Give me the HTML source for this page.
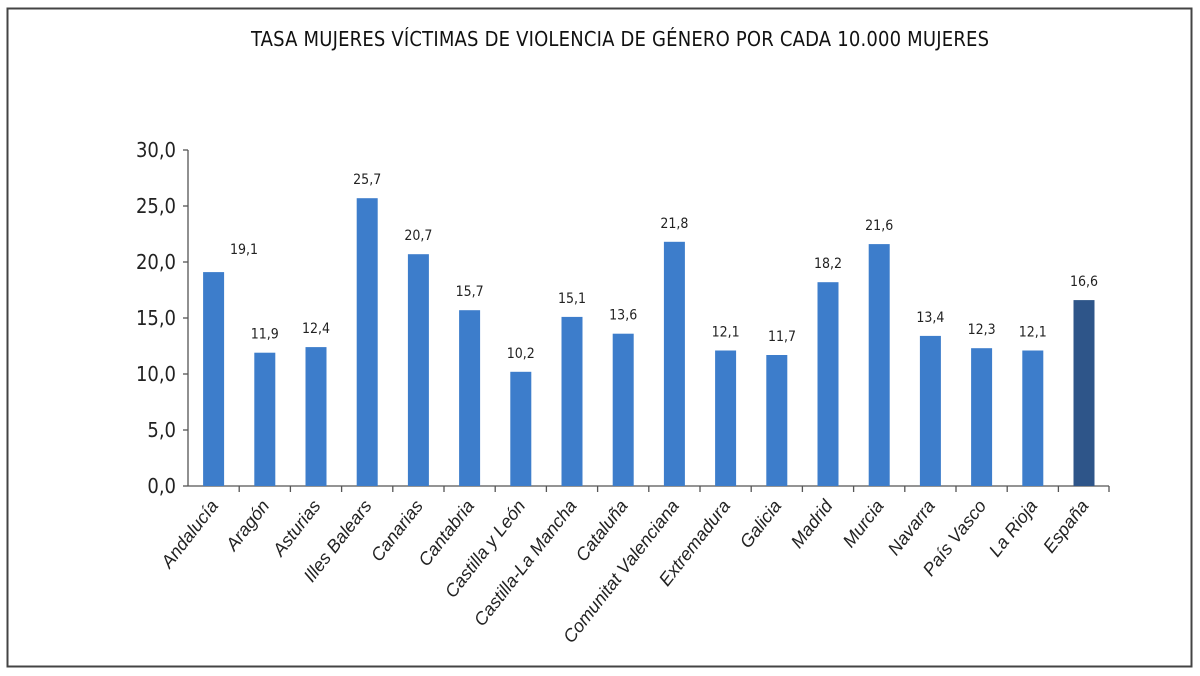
<!DOCTYPE html>
<html><head><meta charset="utf-8"><style>
html,body{margin:0;padding:0;background:#fff;}
svg{display:block;}
.v{font-size:14px;text-anchor:middle;fill:#222;font-family:"DejaVu Sans Condensed","DejaVu Sans",sans-serif;}
.c{font-size:18px;font-style:italic;text-anchor:end;fill:#222;font-family:"Liberation Sans",sans-serif;}
</style></head><body>
<svg width="1200" height="676" viewBox="0 0 1200 676" xmlns="http://www.w3.org/2000/svg">
<rect x="7.5" y="8.5" width="1184" height="658" fill="#fff" stroke="#444" stroke-width="2"/>
<text x="620" y="46" font-size="20" text-anchor="middle" fill="#111" font-family="DejaVu Sans Condensed, DejaVu Sans, sans-serif" textLength="738">TASA MUJERES VÍCTIMAS DE VIOLENCIA DE GÉNERO POR CADA 10.000 MUJERES</text>
<g stroke="#555" stroke-width="1.3">
<line x1="188" y1="150" x2="188" y2="486"/>
<line x1="188" y1="486" x2="1109" y2="486"/>
<line x1="183" y1="150" x2="188" y2="150"/>
<line x1="183" y1="206" x2="188" y2="206"/>
<line x1="183" y1="262" x2="188" y2="262"/>
<line x1="183" y1="318" x2="188" y2="318"/>
<line x1="183" y1="374" x2="188" y2="374"/>
<line x1="183" y1="430" x2="188" y2="430"/>
<line x1="183" y1="486" x2="188" y2="486"/>
<line x1="239.2" y1="486" x2="239.2" y2="492"/><line x1="290.4" y1="486" x2="290.4" y2="492"/>
<line x1="341.6" y1="486" x2="341.6" y2="492"/><line x1="392.8" y1="486" x2="392.8" y2="492"/>
<line x1="444" y1="486" x2="444" y2="492"/><line x1="495.2" y1="486" x2="495.2" y2="492"/>
<line x1="546.4" y1="486" x2="546.4" y2="492"/><line x1="597.6" y1="486" x2="597.6" y2="492"/>
<line x1="648.8" y1="486" x2="648.8" y2="492"/><line x1="700" y1="486" x2="700" y2="492"/>
<line x1="751.2" y1="486" x2="751.2" y2="492"/><line x1="802.4" y1="486" x2="802.4" y2="492"/>
<line x1="853.6" y1="486" x2="853.6" y2="492"/><line x1="904.8" y1="486" x2="904.8" y2="492"/>
<line x1="956" y1="486" x2="956" y2="492"/><line x1="1007.2" y1="486" x2="1007.2" y2="492"/>
<line x1="1058.4" y1="486" x2="1058.4" y2="492"/><line x1="1109" y1="486" x2="1109" y2="492"/>
</g>
<g font-size="20" text-anchor="end" fill="#222" font-family="DejaVu Sans Condensed, DejaVu Sans, sans-serif">
<text x="176" y="157">30,0</text><text x="176" y="213">25,0</text><text x="176" y="269">20,0</text>
<text x="176" y="325">15,0</text><text x="176" y="381">10,0</text><text x="176" y="437">5,0</text><text x="176" y="493">0,0</text>
</g>
<g fill="#3d7dcb">
<rect x="203.1" y="272.1" width="21" height="213.9"/>
<rect x="254.3" y="352.7" width="21" height="133.3"/>
<rect x="305.5" y="347.1" width="21" height="138.9"/>
<rect x="356.7" y="198.2" width="21" height="287.8"/>
<rect x="407.9" y="254.2" width="21" height="231.8"/>
<rect x="459.1" y="310.2" width="21" height="175.8"/>
<rect x="510.3" y="371.8" width="21" height="114.2"/>
<rect x="561.5" y="316.9" width="21" height="169.1"/>
<rect x="612.7" y="333.7" width="21" height="152.3"/>
<rect x="663.9" y="241.8" width="21" height="244.2"/>
<rect x="715.1" y="350.5" width="21" height="135.5"/>
<rect x="766.3" y="355" width="21" height="131"/>
<rect x="817.5" y="282.2" width="21" height="203.8"/>
<rect x="868.7" y="244.1" width="21" height="241.9"/>
<rect x="919.9" y="335.9" width="21" height="150.1"/>
<rect x="971.1" y="348.2" width="21" height="137.8"/>
<rect x="1022.3" y="350.5" width="21" height="135.5"/>
<rect x="1073.5" y="300.1" width="21" height="185.9" fill="#2e5589"/>
</g>
<text class="v" x="244" y="254">19,1</text>
<text class="v" x="264.8" y="338.7">11,9</text>
<text class="v" x="316" y="333.1">12,4</text>
<text class="v" x="367.2" y="184.2">25,7</text>
<text class="v" x="418.4" y="240.2">20,7</text>
<text class="v" x="469.6" y="296.2">15,7</text>
<text class="v" x="520.8" y="357.8">10,2</text>
<text class="v" x="572" y="302.9">15,1</text>
<text class="v" x="623.2" y="319.7">13,6</text>
<text class="v" x="674.4" y="227.8">21,8</text>
<text class="v" x="725.6" y="336.5">12,1</text>
<text class="v" x="782" y="341">11,7</text>
<text class="v" x="828" y="268.2">18,2</text>
<text class="v" x="879.2" y="230.1">21,6</text>
<text class="v" x="930.4" y="321.9">13,4</text>
<text class="v" x="981.6" y="334.2">12,3</text>
<text class="v" x="1032.8" y="336.5">12,1</text>
<text class="v" x="1084" y="286.1">16,6</text>
<text class="c" transform="translate(219,506) rotate(-52)">Andalucía</text>
<text class="c" transform="translate(270.2,506) rotate(-52)">Aragón</text>
<text class="c" transform="translate(321.4,506) rotate(-52)">Asturias</text>
<text class="c" transform="translate(372.6,506) rotate(-52)">Illes Balears</text>
<text class="c" transform="translate(423.8,506) rotate(-52)">Canarias</text>
<text class="c" transform="translate(475,506) rotate(-52)">Cantabria</text>
<text class="c" transform="translate(526.2,506) rotate(-52)">Castilla y León</text>
<text class="c" transform="translate(577.4,506) rotate(-52)">Castilla-La Mancha</text>
<text class="c" transform="translate(628.6,506) rotate(-52)">Cataluña</text>
<text class="c" transform="translate(679.8,506) rotate(-52)">Comunitat Valenciana</text>
<text class="c" transform="translate(731,506) rotate(-52)">Extremadura</text>
<text class="c" transform="translate(782.2,506) rotate(-52)">Galicia</text>
<text class="c" transform="translate(833.4,506) rotate(-52)">Madrid</text>
<text class="c" transform="translate(884.6,506) rotate(-52)">Murcia</text>
<text class="c" transform="translate(935.8,506) rotate(-52)">Navarra</text>
<text class="c" transform="translate(987,506) rotate(-52)">País Vasco</text>
<text class="c" transform="translate(1038.2,506) rotate(-52)">La Rioja</text>
<text class="c" transform="translate(1089.4,506) rotate(-52)">España</text>
</svg>
</body></html>
